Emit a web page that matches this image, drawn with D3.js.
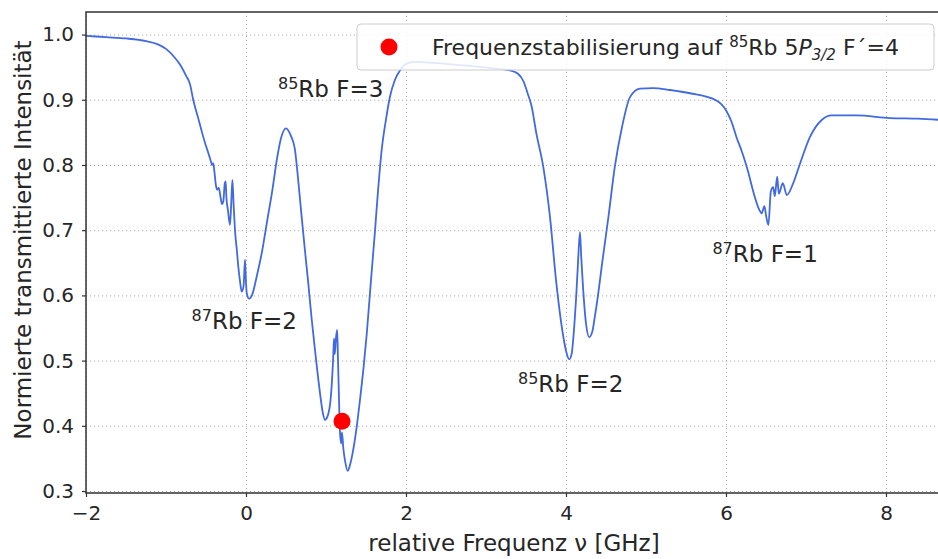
<!DOCTYPE html>
<meta charset="utf-8">
<html>
<head>
    <script src="https://d3js.org/d3.v7.min.js"></script>
    <style>
        body { margin: 0; background: #fff; }
        text { font-family: "DejaVu Sans", sans-serif; fill: #262626; }
        .grid line { stroke: #b0b0b0; stroke-dasharray: 1.2, 2.8; stroke-width: 1; }
        .grid path { display: none; }
    </style>
</head>
<body>
    <div id="chart"></div>
    <script>
        // measured spectrum (relative frequency in GHz, normalised transmission)
        const freq = [
            -2.0, -1.75, -1.5, -1.25, -1.1, -1.0, -0.9, -0.825, -0.75, -0.7,
            -0.66, -0.6, -0.55, -0.51, -0.475, -0.44, -0.425, -0.41, -0.395, -0.375,
            -0.36, -0.34, -0.32, -0.30, -0.283, -0.265, -0.254, -0.245, -0.225, -0.2,
            -0.185, -0.17, -0.155, -0.1375, -0.115, -0.096, -0.075, -0.054, -0.03, -0.0125,
            0.0, 0.01, 0.04, 0.08, 0.134, 0.2, 0.26, 0.33, 0.384, 0.44,
            0.5, 0.56, 0.61, 0.65, 0.696, 0.74, 0.779, 0.82, 0.8625, 0.9,
            0.925, 0.96, 0.9875, 1.01, 1.03, 1.05, 1.07, 1.09, 1.1, 1.11,
            1.125, 1.14, 1.15, 1.165, 1.175, 1.19, 1.2, 1.217, 1.24, 1.27,
            1.3, 1.34, 1.38, 1.425, 1.47, 1.51, 1.56, 1.61, 1.65, 1.696,
            1.75, 1.8, 1.86, 1.925, 2.0, 2.1, 2.3, 2.5, 2.8, 3.1,
            3.3, 3.4, 3.47, 3.52, 3.57, 3.63, 3.716, 3.8, 3.88, 3.966,
            4.0, 4.04, 4.07, 4.09, 4.11, 4.125, 4.15, 4.175, 4.19, 4.21,
            4.25, 4.29, 4.33, 4.36, 4.4, 4.446, 4.53, 4.61, 4.7, 4.8,
            4.925, 5.09, 5.3, 5.55, 5.88, 6.0, 6.07, 6.13, 6.2, 6.26,
            6.36, 6.41, 6.446, 6.48, 6.5, 6.53, 6.56, 6.59, 6.61, 6.64,
            6.66, 6.71, 6.76, 6.84, 6.925, 7.05, 7.196, 7.32, 7.63, 8.05,
            8.4, 8.7
        ];
        const intensity = [
            0.998, 0.996, 0.994, 0.990, 0.985, 0.978, 0.966, 0.954, 0.937, 0.924,
            0.900, 0.873, 0.850, 0.833, 0.820, 0.806, 0.800, 0.803, 0.790, 0.768,
            0.762, 0.765, 0.752, 0.740, 0.745, 0.772, 0.775, 0.750, 0.730, 0.708,
            0.740, 0.777, 0.740, 0.700, 0.670, 0.644, 0.622, 0.606, 0.615, 0.655,
            0.620, 0.603, 0.595, 0.602, 0.629, 0.667, 0.711, 0.762, 0.807, 0.842,
            0.856, 0.845, 0.825, 0.780, 0.720, 0.665, 0.618, 0.565, 0.516, 0.475,
            0.450, 0.420, 0.409, 0.412, 0.419, 0.432, 0.460, 0.505, 0.534, 0.510,
            0.535, 0.547, 0.500, 0.430, 0.390, 0.373, 0.390, 0.365, 0.345, 0.331,
            0.340, 0.363, 0.395, 0.440, 0.490, 0.542, 0.620, 0.695, 0.760, 0.823,
            0.870, 0.905, 0.930, 0.945, 0.955, 0.958, 0.957, 0.955, 0.952, 0.948,
            0.945, 0.940, 0.928, 0.910, 0.890, 0.848, 0.797, 0.720, 0.618, 0.537,
            0.515, 0.502, 0.510, 0.532, 0.565, 0.593, 0.650, 0.697, 0.660, 0.618,
            0.557, 0.536, 0.545, 0.567, 0.600, 0.644, 0.720, 0.797, 0.858, 0.904,
            0.917, 0.918, 0.915, 0.910, 0.899, 0.884, 0.866, 0.843, 0.820, 0.797,
            0.751, 0.733, 0.726, 0.737, 0.723, 0.708, 0.759, 0.766, 0.752, 0.782,
            0.756, 0.772, 0.754, 0.772, 0.802, 0.843, 0.869, 0.876, 0.876, 0.872,
            0.871, 0.869
        ];

        // lock point
        const lockFreq = [1.2];
        const lockIntensity = [0.407];

        // peak labels (anchored in data coordinates, like annotate)
        const peakIso = ["85", "87", "85", "87"];
        const peakText = ["Rb F=3", "Rb F=2", "Rb F=2", "Rb F=1"];
        const peakX = [0.4, -0.68, 3.4, 5.83];
        const peakY = [0.904, 0.5485, 0.452, 0.651];

        const xTicks = [-2, 0, 2, 4, 6, 8];
        const yTicks = [0.3, 0.4, 0.5, 0.6, 0.7, 0.8, 0.9, 1.0];

        const W = 938, H = 559;
        const margin = { top: 12, left: 86 };
        const plotW = 854, plotH = 481;

        const svg = d3.select("#chart").append("svg")
            .attr("width", W).attr("height", H);
        const g = svg.append("g")
            .attr("transform", `translate(${margin.left},${margin.top})`);

        const x = d3.scaleLinear().domain([-2, 8.675]).range([0, plotW]);
        const y = d3.scaleLinear().domain([0.297, 1.0346]).range([plotH, 0]);

        // grid
        g.append("g").attr("class", "grid")
            .attr("transform", `translate(0,${plotH})`)
            .call(d3.axisBottom(x).tickValues(xTicks).tickSize(-plotH).tickFormat(""));
        g.append("g").attr("class", "grid")
            .call(d3.axisLeft(y).tickValues(yTicks).tickSize(-plotW).tickFormat(""));

        // spectrum
        const pts = freq.map((f, i) => [f, intensity[i]]);
        g.append("path")
            .datum(pts)
            .attr("fill", "none")
            .attr("stroke", "#4169e1")
            .attr("stroke-width", 1.8)
            .attr("stroke-linejoin", "round")
            .attr("d", d3.line().x(d => x(d[0])).y(d => y(d[1])).curve(d3.curveMonotoneX));

        // lock point
        g.selectAll("circle.lock").data(lockFreq).enter().append("circle")
            .attr("class", "lock")
            .attr("cx", d => x(d))
            .attr("cy", (d, i) => y(lockIntensity[i]))
            .attr("r", 8.5)
            .attr("fill", "red");

        // axes
        const xAxis = g.append("g")
            .attr("transform", `translate(0,${plotH})`)
            .call(d3.axisBottom(x).tickValues(xTicks).tickSize(4).tickPadding(9)
                .tickFormat(d => d < 0 ? "\u2212" + Math.abs(d) : d));
        const yAxis = g.append("g")
            .call(d3.axisLeft(y).tickValues(yTicks).tickSize(4).tickPadding(8)
                .tickFormat(d3.format(".1f")));
        [xAxis, yAxis].forEach(a => {
            a.selectAll("text").style("font-size", "20px").style("font-family", "DejaVu Sans").attr("fill", "#262626");
            a.selectAll("line").attr("stroke", "#333").attr("stroke-width", 1.2);
            a.select("path").remove();
        });

        // frame (left, top, bottom)
        g.append("path")
            .attr("d", `M${plotW + 4},0H0V${plotH}H${plotW + 4}`)
            .attr("fill", "none").attr("stroke", "#333").attr("stroke-width", 1.5);

        // peak annotations
        peakText.forEach((t, i) => {
            const txt = g.append("text")
                .attr("x", x(peakX[i]))
                .attr("y", y(peakY[i]))
                .style("font-size", "23px");
            txt.append("tspan").text(peakIso[i]).style("font-size", "16px").attr("dy", "-8");
            txt.append("tspan").text(t).attr("dy", "8");
        });

        // legend
        const leg = svg.append("g").attr("transform", "translate(357,24)");
        leg.append("rect")
            .attr("width", 577).attr("height", 46).attr("rx", 4)
            .attr("fill", "white").attr("fill-opacity", 0.85)
            .attr("stroke", "#cccccc").attr("stroke-width", 1);
        leg.append("circle").attr("cx", 32).attr("cy", 23).attr("r", 8.5).attr("fill", "red");
        const lt = leg.append("text").attr("x", 75).attr("y", 31).style("font-size", "22px");
        lt.append("tspan").text("Frequenzstabilisierung auf ");
        lt.append("tspan").text("85").style("font-size", "15px").attr("dy", "-8");
        lt.append("tspan").text("Rb 5").attr("dy", "8");
        lt.append("tspan").text("P").style("font-style", "italic");
        lt.append("tspan").text("3/2").style("font-size", "15px").style("font-style", "italic").attr("dy", "5");
        lt.append("tspan").text(" F\u00b4=4").attr("dy", "-5");

        // axis titles
        svg.append("text")
            .attr("x", 514).attr("y", 551)
            .attr("text-anchor", "middle").style("font-size", "23px")
            .text("relative Frequenz \u03bd [GHz]");
        svg.append("text")
            .attr("transform", "translate(31,240) rotate(-90)")
            .attr("text-anchor", "middle").style("font-size", "23px")
            .text("Normierte transmittierte Intensität");
    </script>
</body>
</html>
